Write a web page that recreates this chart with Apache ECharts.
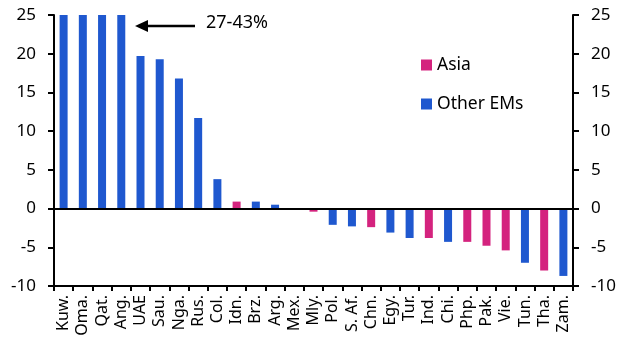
<!DOCTYPE html>
<html><head><meta charset="utf-8">
<script src="https://cdn.jsdelivr.net/npm/echarts@6/dist/echarts.min.js"></script>
<style>html,body{margin:0;padding:0;background:#fff}#c{width:632px;height:356px}</style>
</head><body><div id="c"></div>
<script>
var categories = ["Kuw.","Oma.","Qat.","Ang.","UAE","Sau.","Nga.","Rus.","Col.","Idn.","Brz.","Arg.","Mex.","Mly.","Pol.","S. Af.","Chn.","Egy.","Tur.","Ind.","Chi.","Php.","Pak.","Vie.","Tun.","Tha.","Zam."];
var values = [25,25,25,25,19.7,19.3,16.8,11.7,3.8,0.9,0.9,0.5,0.05,-0.4,-2.1,-2.3,-2.4,-3.1,-3.8,-3.8,-4.3,-4.3,-4.8,-5.4,-7.0,-8.0,-8.7];
var region = ["O","O","O","O","O","O","O","O","O","A","O","O","O","A","O","O","A","O","O","A","O","A","A","A","O","A","O"];
var yTicks = [-10,-5,0,5,10,15,20,25];
var annotationText = "27-43%";

var asia = values.map(function(v,i){return region[i]==="A"?v:null;});
var other = values.map(function(v,i){return region[i]==="O"?v:null;});
var font = "Noto Sans";
var chart = echarts.init(document.getElementById('c'));
var yAxisBase = {
  type:'value', min:-10, max:25, interval:5,
  axisLine:{show:true,lineStyle:{color:'#000',width:2}},
  axisTick:{show:true,length:6,lineStyle:{color:'#000',width:2}},
  axisLabel:{color:'#000',fontSize:17,fontFamily:font,margin:18},
  splitLine:{show:false}
};
chart.setOption({
  animation:false,
  grid:{left:54,right:59,top:15,bottom:70,containLabel:false},
  legend:{orient:'vertical',left:416,top:51,itemWidth:11,itemHeight:11,itemGap:21,icon:'rect',
    textStyle:{fontSize:17.5,fontFamily:font,color:'#000'},data:['Asia','Other EMs']},
  xAxis:{type:'category',data:categories,
    axisLine:{onZero:false,lineStyle:{color:'#000',width:2}},
    axisTick:{show:true,length:5,alignWithLabel:false,lineStyle:{color:'#000',width:2}},
    axisLabel:{rotate:90,color:'#000',fontSize:16,fontFamily:font,interval:0,margin:9}},
  yAxis:[Object.assign({},yAxisBase,{position:'left'}),Object.assign({},yAxisBase,{position:'right'})],
  series:[
    {name:'Asia',type:'bar',stack:'s',data:asia,barWidth:8,itemStyle:{color:'#D4237E'},
      markLine:{silent:true,symbol:'none',label:{show:false},lineStyle:{color:'#000',width:2,type:'solid'},data:[{yAxis:0}]}},
    {name:'Other EMs',type:'bar',stack:'s',data:other,barWidth:8,itemStyle:{color:'#1F58CF'}}
  ],
  graphic:[
    {type:'line',shape:{x1:195,y1:26,x2:142,y2:26},style:{stroke:'#000',lineWidth:2.5}},
    {type:'polygon',shape:{points:[[135,26],[148,20],[148,32]]},style:{fill:'#000'}},
    {type:'text',left:206,top:14,style:{text:annotationText,fontSize:18,fontFamily:font,fill:'#000'}}
  ]
});
</script></body></html>
